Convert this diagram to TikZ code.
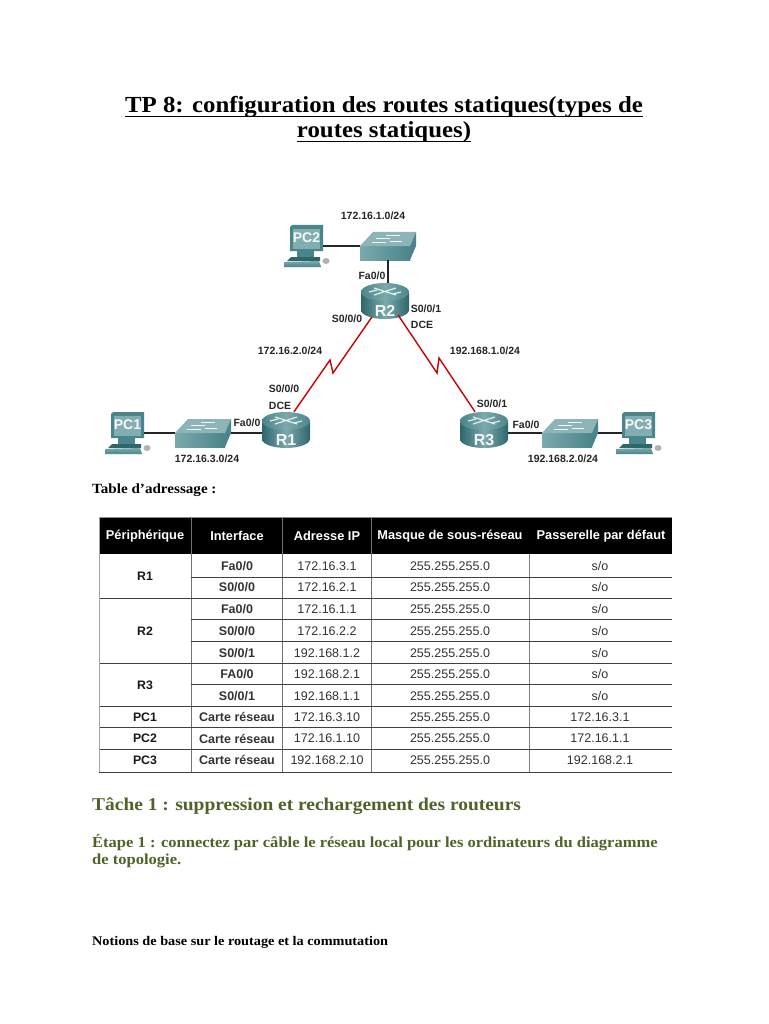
\documentclass[tikz,border=0pt]{standalone}
\usepackage{fontspec}
\setmainfont{Liberation Serif}
\setsansfont{Liberation Sans}
\newfontfamily\widefont[FakeStretch=1.08]{Liberation Serif}
\usetikzlibrary{calc}
\definecolor{teal1}{HTML}{4A858B}
\definecolor{teal2}{HTML}{7BA9AC}
\definecolor{teal3}{HTML}{8DB5B8}
\definecolor{teal4}{HTML}{2F666C}
\definecolor{olive}{HTML}{4F6228}
\tikzset{
 lab/.style={font=\sffamily\bfseries\fontsize{10.5}{12}\selectfont,inner sep=0pt,text=black!85},
 wire/.style={line width=1.2pt,black!85},
 serial/.style={line width=1.4pt,color=red!80!black,line join=miter},
 devname/.style={font=\sffamily\bfseries\fontsize{14}{16}\selectfont,text=white!92!teal2,inner sep=0pt},
 routername/.style={font=\sffamily\bfseries\fontsize{16}{18}\selectfont,text=white!92!teal2,inner sep=0pt},
 hcell/.style={font=\sffamily\bfseries\fontsize{12.8}{14}\selectfont,text=white,inner sep=0pt},
 bcell/.style={font=\sffamily\bfseries\fontsize{12.3}{14}\selectfont,text=black!90,inner sep=0pt},
 cell/.style={font=\sffamily\fontsize{12.5}{14}\selectfont,text=black!80,inner sep=0pt},
 hline/.style={line width=1pt,black!75},
 vline/.style={line width=.8pt,black!50},
 ghost/.style={inner sep=0pt,minimum width=48pt,minimum height=36pt},
 titletext/.style={font=\widefont\bfseries\fontsize{23}{26}\selectfont,inner sep=0pt,anchor=base},
 titlerule/.style={line width=1.4pt,black},
}
% router: (cx,cy) is the centre of its box
\newcommand{\routericon}[4]{%
 \begin{scope}[shift={(#2,#3)}]
  \path[left color=teal4,right color=teal4,middle color=teal2]
    (-24,-8) -- (-24,9) arc[start angle=180,end angle=0,x radius=24,y radius=9] -- (24,-8) -- cycle;
  \path[left color=teal1,right color=teal1,middle color=teal2] (0,-9) ellipse[x radius=24,y radius=9];
  \draw[white!85!teal2,line width=1.1pt] (-11,-13) -- (11,-6) (-11,-6) -- (11,-13);
  \draw[white!85!teal2,line width=1.1pt] (-16,-9) -- (-8,-11) (16,-9) -- (8,-7);
  \node[ghost] (#1) at (0,0) {};
  \node[routername] (#1-n) at (0,10) {#4};
 \end{scope}}
% switch: (x,y) is the top left corner of the front face
\newcommand{\switchicon}[3]{%
 \begin{scope}[shift={(#2,#3)}]
  \path[left color=teal2,right color=teal1] (0,0) rectangle (50,14);
  \fill[teal3] (0,0) -- (13,-14) -- (56,-14) -- (50,0) -- cycle;
  \fill[teal1] (50,0) -- (56,-14) -- (56,0) -- (50,14) -- cycle;
  \draw[white!90!teal2,line width=1pt] (16,-8) -- (30,-8) (26,-11) -- (40,-11) (12,-4) -- (26,-4) (30,-5) -- (42,-5);
  \node[inner sep=0pt,minimum width=56pt,minimum height=28pt] (#1) at (28,0) {};
 \end{scope}}
% pc: (x,y) is the top left corner of the monitor
\newcommand{\pcicon}[4]{%
 \begin{scope}[shift={(#2,#3)}]
  \fill[teal1] (7,26) rectangle (24,33);
  \fill[teal4] (-3,36) -- (1,32) -- (30,32) -- (30,36) -- cycle;
  \path[top color=teal2,bottom color=teal1] (-6,37) -- (29,36) -- (31,42) -- (-6,42) -- cycle;
  \fill[black!30] (36,36) ellipse[x radius=3.5,y radius=3];
  \fill[teal1] (0,2) -- (2,0) -- (33,0) -- (33,26) -- (0,26) -- cycle;
  \fill[teal3!85!teal1] (3,4) rectangle (30,24);
  \node[inner sep=0pt,minimum width=33pt,minimum height=26pt,devname] (#1) at (16.5,13) {#4};
 \end{scope}}
\newcommand{\trow}[6]{%
 \node[cell] (#1-if) at (237,#2) {\bfseries #3};
 \node[cell] (#1-ip) at (327,#2) {#4};
 \node[cell] (#1-ma) at (450,#2) {#5};
 \node[cell] (#1-gw) at (600,#2) {#6};}
\begin{document}
\begin{tikzpicture}[x=1pt,y=-1pt]
\useasboundingbox (0,0) rectangle (768,1024);
\fill[white] (0,0) rectangle (768,1024);
% title
\node[titletext] (t1) at (384,113) {TP 8: configuration des routes statiques(types de};
\node[titletext] (t2) at (384,138) {routes statiques)};
\draw[titlerule] ($(t1.base west)+(0,3.5)$) -- ($(t1.base east)+(0,3.5)$);
\draw[titlerule] ($(t2.base west)+(0,3.5)$) -- ($(t2.base east)+(0,3.5)$);
% devices
\pcicon{pc2}{290}{225}{PC2}
\switchicon{sw2}{360}{246}
\routericon{r2}{385}{301}{R2}
\pcicon{pc1}{111}{412}{PC1}
\switchicon{sw1}{175}{433}
\routericon{r1}{286}{430}{R1}
\routericon{r3}{484}{430}{R3}
\switchicon{sw3}{542}{433}
\pcicon{pc3}{622}{412}{PC3}
% ethernet links
\draw[wire] (pc2.east |- sw2.west) -- (sw2.west);
\draw[wire] (sw2.south) -- (sw2.south |- r2.north);
\draw[wire] (pc1.east |- sw1.west) -- (sw1.west);
\draw[wire] (sw1.east) -- (r1.west |- sw1.east);
\draw[wire] (r3.east |- sw3.west) -- (sw3.west);
\draw[wire] (sw3.east) -- (pc3.west |- sw3.east);
% serial links
\coordinate (b1a) at (333,373);
\coordinate (b1b) at (330,360);
\coordinate (b2a) at (437,373);
\coordinate (b2b) at (439,358);
\draw[serial] ($(r2.south west)+(11,-2)$) -- (b1a) -- (b1b) -- ($(r1.north)+(8,0)$);
\draw[serial] ($(r2.south east)+(-11,-4)$) -- (b2a) -- (b2b) -- ($(r3.north)+(-9,0)$);
% labels
\node[lab] (l1) at (373,216) {172.16.1.0/24};
\node[lab] (l2) at (372,276) {Fa0/0};
\node[lab] (l3) at (347,319) {S0/0/0};
\node[lab] (l4) at (290,351) {172.16.2.0/24};
\node[lab] (l5) at (284,389) {S0/0/0};
\node[lab] (l6) at (280,406) {DCE};
\node[lab] (l7) at (247,423) {Fa0/0};
\node[lab] (l8) at (207,459) {172.16.3.0/24};
\node[lab] (l9) at (426,309) {S0/0/1};
\node[lab] (l10) at (422,325) {DCE};
\node[lab] (l11) at (485,351) {192.168.1.0/24};
\node[lab] (l12) at (492,404) {S0/0/1};
\node[lab] (l13) at (526,425) {Fa0/0};
\node[lab] (l14) at (563,459) {192.168.2.0/24};
% body
\node[anchor=west,font=\widefont\bfseries\fontsize{14}{16}\selectfont,inner sep=0pt] (tb) at (92,490.5) {Table d’adressage :};
% table
\fill[black] (99,517) rectangle (672,554);
\draw[black!45,line width=.8pt] (99,517) -- (672,517);
\foreach \x in {191,282,371} \draw[black!55,line width=.8pt] (\x,517) -- (\x,772);
\draw[vline] (529,554) -- (529,772);
\foreach \y in {577,598,619,641,663,684,706,727,749,772} \draw[hline] (99,\y) -- (672,\y);
\foreach \y in {577,619,641,684} \draw[white,line width=1.1pt] (98,\y) -- (190.5,\y);
\draw[black!35,line width=.7pt] (99,517) -- (99,772);
\node[hcell] (h1) at (145,536) {Périphérique};
\node[hcell] (h2) at (237,536) {Interface};
\node[hcell] (h3) at (327,536) {Adresse IP};
\node[hcell] (h4) at (450,536) {Masque de sous-réseau};
\node[hcell] (h5) at (601,536) {Passerelle par défaut};
\node[bcell] (d1) at (145,576) {R1};
\node[bcell] (d2) at (145,631) {R2};
\node[bcell] (d3) at (145,685) {R3};
\node[bcell] (d4) at (145,717) {PC1};
\node[bcell] (d5) at (145,738.5) {PC2};
\node[bcell] (d6) at (145,760) {PC3};
\trow{a}{566}{Fa0/0}{172.16.3.1}{255.255.255.0}{s/o}
\trow{b}{587.5}{S0/0/0}{172.16.2.1}{255.255.255.0}{s/o}
\trow{c}{609.5}{Fa0/0}{172.16.1.1}{255.255.255.0}{s/o}
\trow{d}{631}{S0/0/0}{172.16.2.2}{255.255.255.0}{s/o}
\trow{e}{653}{S0/0/1}{192.168.1.2}{255.255.255.0}{s/o}
\trow{f}{674.5}{FA0/0}{192.168.2.1}{255.255.255.0}{s/o}
\trow{g}{696}{S0/0/1}{192.168.1.1}{255.255.255.0}{s/o}
\trow{i}{717}{Carte réseau}{172.16.3.10}{255.255.255.0}{172.16.3.1}
\trow{j}{738.5}{Carte réseau}{172.16.1.10}{255.255.255.0}{172.16.1.1}
\trow{k}{760}{Carte réseau}{192.168.2.10}{255.255.255.0}{192.168.2.1}
% headings
\node[anchor=west,text=olive,font=\widefont\bfseries\fontsize{18}{22}\selectfont,inner sep=0pt] (s1) at (92,806.5) {Tâche 1 : suppression et rechargement des routeurs};
\node[anchor=west,text=olive,font=\widefont\bfseries\fontsize{15.3}{18}\selectfont,inner sep=0pt] (s2) at (92,842.5) {Étape 1 : connectez par câble le réseau local pour les ordinateurs du diagramme};
\node[anchor=west,text=olive,font=\widefont\bfseries\fontsize{15.3}{18}\selectfont,inner sep=0pt] (s3) at (92,860.5) {de topologie.};
\node[anchor=west,font=\widefont\bfseries\fontsize{13.2}{15}\selectfont,inner sep=0pt] (s4) at (92,942.5) {Notions de base sur le routage et la commutation};
\end{tikzpicture}
\end{document}
